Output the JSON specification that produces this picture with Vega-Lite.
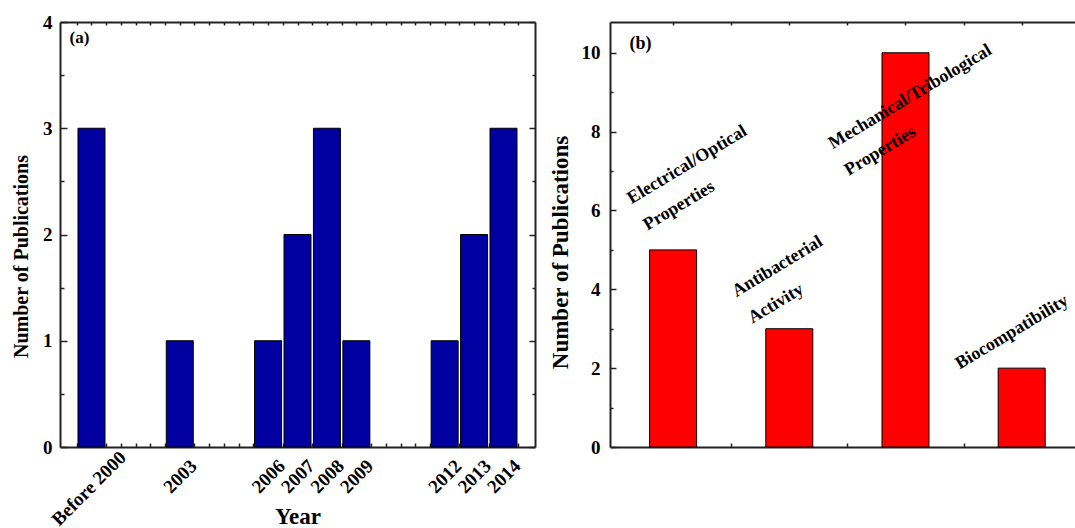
{
  "$schema": "https://vega.github.io/schema/vega-lite/v6.json",
  "background": "white",
  "padding": {"left": 11, "top": 13, "right": 0, "bottom": 0},
  "bounds": "flush",
  "spacing": 75,
  "datasets": {
    "years": [
      {"year": 2000, "label": "Before 2000", "count": 3},
      {"year": 2003, "label": "2003", "count": 1},
      {"year": 2006, "label": "2006", "count": 1},
      {"year": 2007, "label": "2007", "count": 2},
      {"year": 2008, "label": "2008", "count": 3},
      {"year": 2009, "label": "2009", "count": 1},
      {"year": 2012, "label": "2012", "count": 1},
      {"year": 2013, "label": "2013", "count": 2},
      {"year": 2014, "label": "2014", "count": 3}
    ],
    "props": [
      {"cat": 1, "name": "Electrical/Optical Properties", "count": 5},
      {"cat": 2, "name": "Antibacterial Activity", "count": 3},
      {"cat": 3, "name": "Mechanical/Tribological Properties", "count": 10},
      {"cat": 4, "name": "Biocompatibility", "count": 2}
    ],
    "noteA": [{"x": 1999.256, "y": 3.8, "text": "(a)"}],
    "noteB": [{"x": 0.624, "y": 10.09, "text": "(b)"}],
    "labelsB": [
      {"x": 0.643, "y": 6.16, "text": "Electrical/Optical|Properties"},
      {"x": 1.545, "y": 3.8, "text": "Antibacterial|Activity"},
      {"x": 2.375, "y": 7.55, "text": "Mechanical/Tribological|Properties"},
      {"x": 3.466, "y": 1.964, "text": "Biocompatibility"}
    ]
  },
  "config": {
    "font": "Liberation Serif",
    "view": {"stroke": null},
    "axis": {
      "labelFont": "Liberation Serif",
      "labelFontWeight": "bold",
      "labelColor": "#000",
      "titleFont": "Liberation Serif",
      "titleFontWeight": "bold",
      "titleColor": "#000",
      "grid": false,
      "domainColor": "#222",
      "domainWidth": 2,
      "tickColor": "#222",
      "tickWidth": 1.5,
      "labelOverlap": false,
      "labelFlush": false,
      "zindex": 1
    }
  },
  "hconcat": [
    {
      "width": 475,
      "height": 425,
      "layer": [
        {
          "data": {"name": "years"},
          "mark": {"type": "bar", "size": 27, "color": "#0000A0", "stroke": "#000", "strokeWidth": 1},
          "encoding": {
            "x": {
              "field": "year", "type": "quantitative",
              "scale": {"domain": [1999.1, 2014.9], "nice": false, "zero": false},
              "axis": {
                "orient": "bottom",
                "values": [1999.5, 2000, 2000.5, 2001, 2001.5, 2002, 2002.5, 2003, 2003.5, 2004, 2004.5, 2005, 2005.5, 2006, 2006.5, 2007, 2007.5, 2008, 2008.5, 2009, 2009.5, 2010, 2010.5, 2011, 2011.5, 2012, 2012.5, 2013, 2013.5, 2014, 2014.5],
                "tickSize": -4,
                "labelExpr": "datum.value == 2000 ? 'Before 2000' : (indexof([2003, 2006, 2007, 2008, 2009, 2012, 2013, 2014], datum.value) >= 0 ? '' + datum.value : '')",
                "labelAngle": -45,
                "labelAlign": "center",
                "labelBaseline": "middle",
                "labelFontSize": 19,
                "labelPadding": {"condition": {"test": "datum.value == 2000", "value": 45}, "value": 33},
                "labelOffset": {"condition": {"test": "datum.value == 2000", "value": -3}, "value": 0},
                "title": "Year",
                "titleFontSize": 23,
                "titleBaseline": "alphabetic",
                "titleY": 76
              }
            },
            "y": {
              "field": "count", "type": "quantitative",
              "scale": {"domain": [0, 4], "nice": false},
              "axis": {
                "orient": "left",
                "values": [0, 0.5, 1, 1.5, 2, 2.5, 3, 3.5, 4],
                "tickSize": {"condition": {"test": "datum.value % 1 === 0", "value": -7}, "value": -4},
                "labelExpr": "datum.value % 1 === 0 ? '' + datum.value : ''",
                "labelFontSize": 19,
                "labelPadding": 15,
                "title": "Number of Publications",
                "titleFontSize": 20,
                "titleBaseline": "alphabetic",
                "titleX": -32.5,
                "titleY": 234
              }
            }
          }
        },
        {
          "data": {"name": "noteA"},
          "mark": {"type": "text", "fontWeight": "bold", "fontSize": 17, "align": "left", "baseline": "alphabetic", "color": "#000"},
          "encoding": {
            "x": {
              "field": "x", "type": "quantitative",
              "axis": {
                "orient": "top",
                "values": [1999.5, 2000, 2000.5, 2001, 2001.5, 2002, 2002.5, 2003, 2003.5, 2004, 2004.5, 2005, 2005.5, 2006, 2006.5, 2007, 2007.5, 2008, 2008.5, 2009, 2009.5, 2010, 2010.5, 2011, 2011.5, 2012, 2012.5, 2013, 2013.5, 2014, 2014.5],
                "tickSize": -3,
                "labels": false,
                "title": null
              }
            },
            "y": {
              "field": "y", "type": "quantitative",
              "axis": {
                "orient": "right",
                "values": [0, 0.5, 1, 1.5, 2, 2.5, 3, 3.5, 4],
                "tickSize": {"condition": {"test": "datum.value % 1 === 0", "value": -6}, "value": -3},
                "labels": false,
                "title": null
              }
            },
            "text": {"field": "text"}
          }
        }
      ],
      "resolve": {"axis": {"x": "independent", "y": "independent"}}
    },
    {
      "width": 467,
      "height": 425,
      "layer": [
        {
          "data": {"name": "props"},
          "mark": {"type": "bar", "size": 47, "color": "#FF0000", "stroke": "#000", "strokeWidth": 1},
          "encoding": {
            "x": {
              "field": "cat", "type": "quantitative",
              "scale": {"domain": [0.5, 4.433], "nice": false, "zero": false},
              "axis": {
                "orient": "bottom",
                "values": [1, 1.5, 2, 2.5, 3, 3.5, 4],
                "tickSize": {"condition": {"test": "datum.value % 1 === 0", "value": -8}, "value": -4},
                "labels": false,
                "title": null
              }
            },
            "y": {
              "field": "count", "type": "quantitative",
              "scale": {"domain": [0, 10.78], "nice": false},
              "axis": {
                "orient": "left",
                "values": [0, 1, 2, 3, 4, 5, 6, 7, 8, 9, 10],
                "tickSize": {"condition": {"test": "datum.value % 2 === 0", "value": -6}, "value": -3},
                "labelExpr": "datum.value % 2 === 0 ? '' + datum.value : ''",
                "labelFontSize": 19,
                "labelPadding": 16,
                "title": "Number of Publications",
                "titleFontSize": 23,
                "titleBaseline": "alphabetic",
                "titleX": -43,
                "titleY": 230
              }
            }
          }
        },
        {
          "data": {"name": "labelsB"},
          "mark": {"type": "text", "fontWeight": "bold", "fontSize": 18, "align": "left", "baseline": "alphabetic", "angle": -31, "lineBreak": "|", "lineHeight": 31, "color": "#000", "clip": true},
          "encoding": {
            "x": {
              "field": "x", "type": "quantitative",
              "axis": {
                "orient": "top",
                "values": [1, 1.5, 2, 2.5, 3, 3.5, 4],
                "tickSize": -3,
                "labels": false,
                "title": null
              }
            },
            "y": {"field": "y", "type": "quantitative", "axis": null},
            "text": {"field": "text"}
          }
        },
        {
          "data": {"name": "noteB"},
          "mark": {"type": "text", "fontWeight": "bold", "fontSize": 18, "align": "left", "baseline": "alphabetic", "color": "#000"},
          "encoding": {
            "x": {"field": "x", "type": "quantitative", "axis": null},
            "y": {"field": "y", "type": "quantitative", "axis": null},
            "text": {"field": "text"}
          }
        }
      ],
      "resolve": {"axis": {"x": "independent", "y": "independent"}}
    }
  ]
}
